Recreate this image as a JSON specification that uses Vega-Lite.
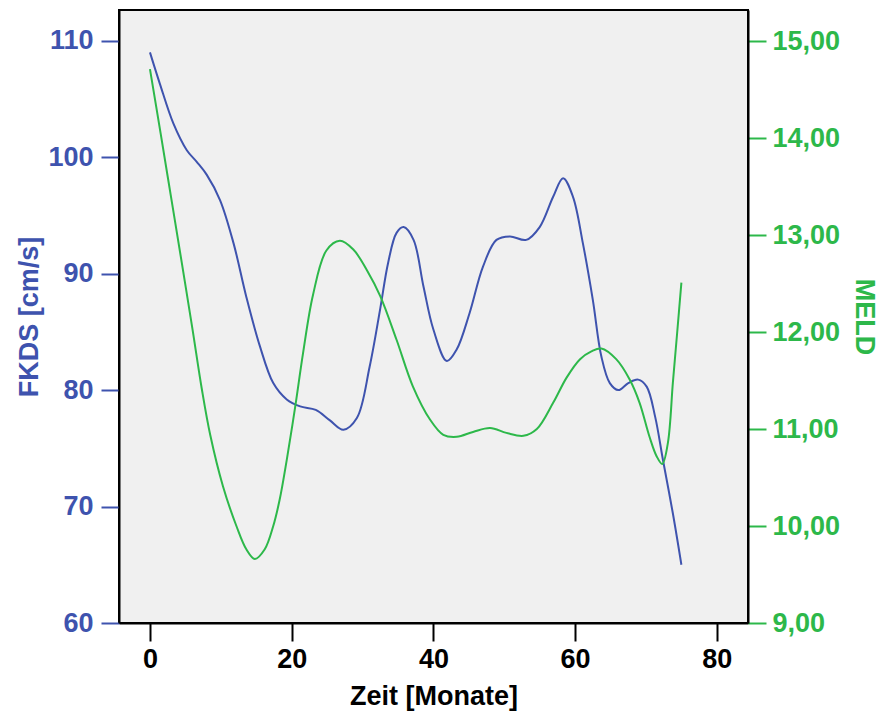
{
  "$schema": "https://vega.github.io/schema/vega-lite/v6.json",
  "width": 629,
  "height": 613,
  "autosize": "none",
  "padding": {"left": 119, "top": 10, "right": 139, "bottom": 92},
  "background": "white",
  "config": {
    "view": {"fill": "#F0F0F0", "stroke": "black", "strokeWidth": 2},
    "font": "Liberation Sans",
    "axis": {
      "labelFont": "Liberation Sans",
      "titleFont": "Liberation Sans",
      "labelFontWeight": "bold",
      "titleFontWeight": "bold",
      "labelFontSize": 27,
      "titleFontSize": 27,
      "grid": false,
      "domainColor": "black",
      "domainWidth": 2,
      "tickWidth": 2,
      "tickSize": 18
    }
  },
  "datasets": {
    "fkds": [
      {"t": 0, "FKDS": 109.0},
      {"t": 1.4, "FKDS": 106.3},
      {"t": 3.3, "FKDS": 102.9},
      {"t": 5.2, "FKDS": 100.6},
      {"t": 6.6, "FKDS": 99.6},
      {"t": 8.0, "FKDS": 98.5},
      {"t": 9.9, "FKDS": 96.3},
      {"t": 11.8, "FKDS": 92.6},
      {"t": 13.6, "FKDS": 88.0},
      {"t": 15.5, "FKDS": 83.8},
      {"t": 17.4, "FKDS": 80.6},
      {"t": 19.3, "FKDS": 79.2},
      {"t": 21.2, "FKDS": 78.6},
      {"t": 23.4, "FKDS": 78.3},
      {"t": 25.4, "FKDS": 77.4},
      {"t": 27.3, "FKDS": 76.6},
      {"t": 29.2, "FKDS": 77.6},
      {"t": 31.0, "FKDS": 82.0},
      {"t": 32.5, "FKDS": 87.0},
      {"t": 33.6, "FKDS": 90.9},
      {"t": 34.8, "FKDS": 93.5},
      {"t": 35.8, "FKDS": 94.0},
      {"t": 37.2, "FKDS": 92.9},
      {"t": 38.6, "FKDS": 88.9},
      {"t": 40.0, "FKDS": 85.2},
      {"t": 41.9, "FKDS": 82.5},
      {"t": 43.3, "FKDS": 83.5},
      {"t": 45.1, "FKDS": 86.6},
      {"t": 47.0, "FKDS": 90.6},
      {"t": 48.9, "FKDS": 92.9},
      {"t": 50.8, "FKDS": 93.2},
      {"t": 53.1, "FKDS": 92.9},
      {"t": 55.0, "FKDS": 94.0},
      {"t": 56.9, "FKDS": 96.6},
      {"t": 58.3, "FKDS": 98.2},
      {"t": 59.7, "FKDS": 96.6},
      {"t": 61.1, "FKDS": 92.6},
      {"t": 62.5, "FKDS": 87.75},
      {"t": 63.7, "FKDS": 82.9},
      {"t": 64.9, "FKDS": 80.6},
      {"t": 66.1, "FKDS": 80.0},
      {"t": 67.5, "FKDS": 80.6},
      {"t": 68.9, "FKDS": 80.9},
      {"t": 70.1, "FKDS": 80.3},
      {"t": 71.3, "FKDS": 77.7},
      {"t": 72.4, "FKDS": 74.0},
      {"t": 73.8, "FKDS": 69.4},
      {"t": 75.0, "FKDS": 65.0}
    ],
    "meld": [
      {"t": 0, "MELD": 14.71},
      {"t": 1.5, "MELD": 14.05},
      {"t": 3.0, "MELD": 13.38},
      {"t": 4.5, "MELD": 12.71},
      {"t": 6.0, "MELD": 12.03},
      {"t": 7.3, "MELD": 11.42},
      {"t": 8.5, "MELD": 10.94},
      {"t": 10.3, "MELD": 10.41},
      {"t": 12.2, "MELD": 10.0},
      {"t": 13.6, "MELD": 9.76},
      {"t": 14.8, "MELD": 9.66},
      {"t": 16.2, "MELD": 9.76},
      {"t": 17.4, "MELD": 10.0},
      {"t": 18.3, "MELD": 10.27},
      {"t": 19.3, "MELD": 10.68},
      {"t": 20.5, "MELD": 11.23},
      {"t": 21.6, "MELD": 11.78},
      {"t": 23.0, "MELD": 12.38},
      {"t": 24.9, "MELD": 12.84},
      {"t": 26.8, "MELD": 12.94},
      {"t": 28.7, "MELD": 12.85},
      {"t": 30.6, "MELD": 12.64},
      {"t": 32.5, "MELD": 12.37},
      {"t": 34.8, "MELD": 11.92},
      {"t": 37.1, "MELD": 11.44},
      {"t": 39.5, "MELD": 11.10},
      {"t": 41.4, "MELD": 10.94},
      {"t": 43.3, "MELD": 10.92},
      {"t": 45.6, "MELD": 10.97},
      {"t": 48.0, "MELD": 11.01},
      {"t": 50.3, "MELD": 10.96},
      {"t": 52.7, "MELD": 10.93},
      {"t": 54.6, "MELD": 11.0},
      {"t": 56.9, "MELD": 11.27},
      {"t": 58.8, "MELD": 11.53},
      {"t": 60.7, "MELD": 11.72},
      {"t": 62.3, "MELD": 11.8},
      {"t": 63.7, "MELD": 11.83},
      {"t": 65.8, "MELD": 11.72},
      {"t": 67.7, "MELD": 11.51},
      {"t": 69.1, "MELD": 11.27},
      {"t": 70.5, "MELD": 10.92},
      {"t": 71.5, "MELD": 10.72},
      {"t": 72.3, "MELD": 10.64},
      {"t": 73.1, "MELD": 10.86},
      {"t": 73.8, "MELD": 11.48},
      {"t": 74.4, "MELD": 11.99},
      {"t": 75.0, "MELD": 12.51}
    ]
  },
  "layer": [
    {
      "data": {"name": "fkds"},
      "mark": {"type": "line", "interpolate": "catmull-rom", "color": "#3E53AE", "strokeWidth": 2, "clip": true},
      "encoding": {
        "x": {
          "field": "t", "type": "quantitative",
          "scale": {"domain": [-4.37, 84.4], "nice": false, "zero": false},
          "axis": {
            "title": "Zeit [Monate]", "values": [0, 20, 40, 60, 80],
            "labelColor": "black", "tickColor": "black", "titleColor": "black",
            "labelPadding": 5, "titlePadding": 11
          }
        },
        "y": {
          "field": "FKDS", "type": "quantitative",
          "scale": {"domain": [60, 112.64], "nice": false, "zero": false},
          "axis": {
            "title": "FKDS [cm/s]", "values": [60, 70, 80, 90, 100, 110],
            "labelColor": "#3E53AE", "tickColor": "#3E53AE", "titleColor": "#3E53AE",
            "labelPadding": 8, "titlePadding": 4
          }
        }
      }
    },
    {
      "data": {"name": "meld"},
      "mark": {"type": "line", "interpolate": "catmull-rom", "color": "#2DB84A", "strokeWidth": 2, "clip": true},
      "encoding": {
        "x": {"field": "t", "type": "quantitative"},
        "y": {
          "field": "MELD", "type": "quantitative",
          "scale": {"domain": [9, 15.32], "nice": false, "zero": false},
          "axis": {
            "orient": "right",
            "title": "MELD", "values": [9, 10, 11, 12, 13, 14, 15],
            "labelExpr": "replace(format(datum.value, '.2f'), '.', ',')",
            "labelColor": "#2DB84A", "tickColor": "#2DB84A", "titleColor": "#2DB84A",
            "labelPadding": 6, "titlePadding": 10
          }
        }
      }
    }
  ],
  "resolve": {"scale": {"y": "independent"}}
}
